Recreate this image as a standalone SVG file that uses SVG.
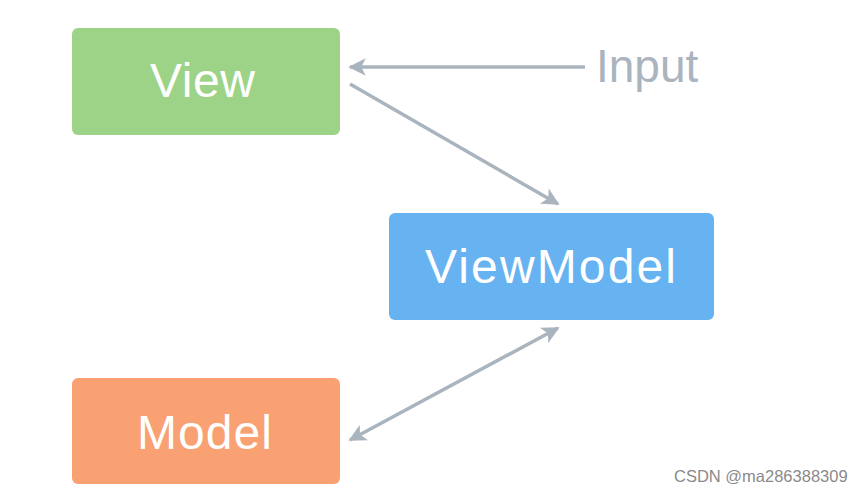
<svg xmlns="http://www.w3.org/2000/svg" width="865" height="493" viewBox="0 0 865 493">
<style>
.box text{font-family:"Liberation Sans",Arial,sans-serif;font-size:48px;fill:#fff;text-anchor:middle}
.conn line{stroke:#aab4bf;stroke-width:3.5}
.lbl{font-family:"Liberation Sans",Arial,sans-serif;font-size:46px;fill:#aab4bf}
.wm{font-family:"Liberation Sans",Arial,sans-serif;font-size:16.5px;fill:#8a8a8a}
</style>
<defs>
<marker id="ah" viewBox="0 0 10 10" refX="9" refY="5" markerWidth="5" markerHeight="5" orient="auto-start-reverse" markerUnits="strokeWidth">
<path d="M0,0 L10,5 L0,10 L2.5,5 Z" fill="#aab4bf"/>
</marker>
</defs>
<rect width="865" height="493" fill="#fff"/>
<g id="view" class="box">
<rect x="72" y="28" width="268" height="107" rx="6" fill="#9dd387"/>
<text x="202.5" y="97" textLength="105" lengthAdjust="spacing">View</text>
</g>
<g id="viewmodel" class="box">
<rect x="389" y="213" width="325" height="107" rx="6" fill="#67b2f0"/>
<text x="550.5" y="283" textLength="251" lengthAdjust="spacing">ViewModel</text>
</g>
<g id="model" class="box">
<rect x="72" y="378" width="268" height="106" rx="6" fill="#f9a172"/>
<text x="204.5" y="449" textLength="135" lengthAdjust="spacing">Model</text>
</g>
<g id="input">
<text class="lbl" x="596" y="82">Input</text>
</g>
<g id="connectors" class="conn">
<line x1="585" y1="67" x2="350" y2="67" marker-end="url(#ah)"/>
<line x1="350" y1="84" x2="558" y2="204" marker-end="url(#ah)"/>
<line x1="350" y1="440" x2="558" y2="328" marker-start="url(#ah)" marker-end="url(#ah)"/>
</g>
<text class="wm" x="674" y="482">CSDN @ma286388309</text>
</svg>
